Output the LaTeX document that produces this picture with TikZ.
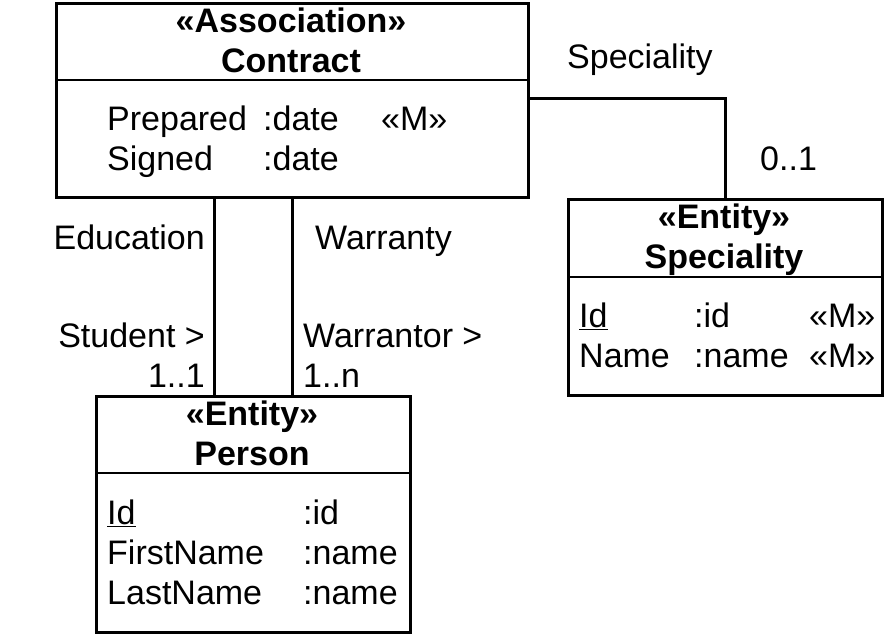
\documentclass[tikz,border=0pt]{standalone}
\usepackage{fontspec}
\setmainfont{Liberation Sans}
\usetikzlibrary{positioning}

\begin{document}
\begin{tikzpicture}[x=1pt, y=-1pt, font=\fontsize{34}{40}\selectfont,
	box/.style={draw, line width=3pt, anchor=north west, inner sep=0pt},
	divider/.style={line width=2pt},
	link/.style={line width=3pt},
	txt/.style={anchor=base west, inner sep=0pt},
	rtxt/.style={anchor=base east, inner sep=0pt},
	head/.style={anchor=base, inner sep=0pt, font=\fontsize{34}{40}\selectfont\bfseries}]

	\useasboundingbox (0,0) rectangle (892,633);

	% contract
	\node[box, minimum width=472pt, minimum height=194pt] (contract) at (55,2) {};
	\draw[divider] (contract.west |- 0,80) -- (contract.east |- 0,80);
	\node[head] (contractst) at (291,32) {«Association»};
	\node[head] (contractnm) at (291,72) {Contract};
	\node[txt] (prepared) at (107,130) {Prepared};
	\node[txt] (preparedt) at (263,130) {:date};
	\node[txt] (preparedm) at (381,130) {«M»};
	\node[txt] (signed) at (107,170) {Signed};
	\node[txt] (signedt) at (263,170) {:date};

	% speciality
	\node[box, minimum width=314pt, minimum height=196pt] (speciality) at (567,198) {};
	\draw[divider] (speciality.west |- 0,277) -- (speciality.east |- 0,277);
	\node[head] (specialityst) at (724,228) {«Entity»};
	\node[head] (specialitynm) at (724,268) {Speciality};
	\node[txt] (specid) at (579,327) {\underline{Id}};
	\node[txt] (specidt) at (694,327) {:id};
	\node[txt] (specidm) at (809,327) {«M»};
	\node[txt] (specname) at (579,367) {Name};
	\node[txt] (specnamet) at (694,367) {:name};
	\node[txt] (specnamem) at (809,367) {«M»};

	% person
	\node[box, minimum width=314pt, minimum height=236pt] (person) at (95,395) {};
	\draw[divider] (person.west |- 0,473) -- (person.east |- 0,473);
	\node[head] (personst) at (252,425) {«Entity»};
	\node[head] (personnm) at (252,465) {Person};
	\node[txt] (persid) at (107,524) {\underline{Id}};
	\node[txt] (persidt) at (303,524) {:id};
	\node[txt] (persfirst) at (107,564) {FirstName};
	\node[txt] (persfirstt) at (303,564) {:name};
	\node[txt] (perslast) at (107,604) {LastName};
	\node[txt] (perslastt) at (303,604) {:name};

	% associations
	\draw[link] (contract.east |- 0,98) -| (speciality.north);
	\node[txt] (lblspec) at (567,68) {Speciality};
	\node[txt] (lblspecm) at (760,170) {0..1};

	\draw[link] (contract.south -| 214,0) -- (person.north -| 214,0);
	\node[rtxt] (lbledu) at (205,249) {Education};
	\node[rtxt] (lblstud) at (205,347) {Student >};
	\node[rtxt] (lblstudm) at (205,387) {1..1};

	\draw[link] (contract.south) -- (contract.south |- person.north);
	\node[txt] (lblwarr) at (315,249) {Warranty};
	\node[txt] (lblwarrt) at (303,347) {Warrantor >};
	\node[txt] (lblwarrm) at (303,387) {1..n};

\end{tikzpicture}
\end{document}
